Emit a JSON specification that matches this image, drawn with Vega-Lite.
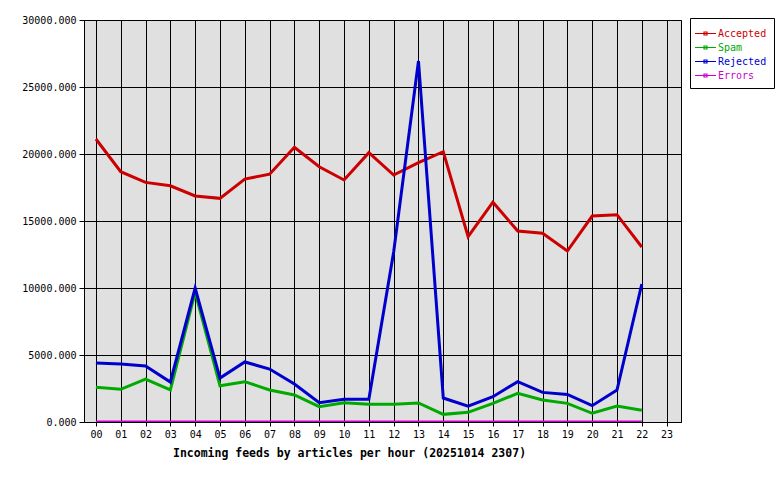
{
  "$schema": "https://vega.github.io/schema/vega-lite/v6.json",
  "autosize": "none",
  "width": 597,
  "height": 402,
  "padding": {"left": 84, "top": 20, "right": 99, "bottom": 58},
  "background": "white",
  "config": {
    "font": "DejaVu Sans Mono",
    "view": {"fill": "#e0e0e0", "stroke": "black", "strokeWidth": 1}
  },
  "data": {
    "values": [
      {"hour": 0, "series": "Accepted", "value": 21120},
      {"hour": 1, "series": "Accepted", "value": 18680},
      {"hour": 2, "series": "Accepted", "value": 17880},
      {"hour": 3, "series": "Accepted", "value": 17630},
      {"hour": 4, "series": "Accepted", "value": 16870},
      {"hour": 5, "series": "Accepted", "value": 16690},
      {"hour": 6, "series": "Accepted", "value": 18130},
      {"hour": 7, "series": "Accepted", "value": 18490},
      {"hour": 8, "series": "Accepted", "value": 20500},
      {"hour": 9, "series": "Accepted", "value": 19050},
      {"hour": 10, "series": "Accepted", "value": 18060},
      {"hour": 11, "series": "Accepted", "value": 20100},
      {"hour": 12, "series": "Accepted", "value": 18430},
      {"hour": 13, "series": "Accepted", "value": 19350},
      {"hour": 14, "series": "Accepted", "value": 20170},
      {"hour": 15, "series": "Accepted", "value": 13830},
      {"hour": 16, "series": "Accepted", "value": 16400},
      {"hour": 17, "series": "Accepted", "value": 14250},
      {"hour": 18, "series": "Accepted", "value": 14080},
      {"hour": 19, "series": "Accepted", "value": 12760},
      {"hour": 20, "series": "Accepted", "value": 15370},
      {"hour": 21, "series": "Accepted", "value": 15470},
      {"hour": 22, "series": "Accepted", "value": 13060},
      {"hour": 0, "series": "Spam", "value": 2590},
      {"hour": 1, "series": "Spam", "value": 2440},
      {"hour": 2, "series": "Spam", "value": 3200},
      {"hour": 3, "series": "Spam", "value": 2390},
      {"hour": 4, "series": "Spam", "value": 9700},
      {"hour": 5, "series": "Spam", "value": 2710},
      {"hour": 6, "series": "Spam", "value": 3010},
      {"hour": 7, "series": "Spam", "value": 2390},
      {"hour": 8, "series": "Spam", "value": 2020},
      {"hour": 9, "series": "Spam", "value": 1140},
      {"hour": 10, "series": "Spam", "value": 1440},
      {"hour": 11, "series": "Spam", "value": 1320},
      {"hour": 12, "series": "Spam", "value": 1320},
      {"hour": 13, "series": "Spam", "value": 1420},
      {"hour": 14, "series": "Spam", "value": 570},
      {"hour": 15, "series": "Spam", "value": 720},
      {"hour": 16, "series": "Spam", "value": 1390},
      {"hour": 17, "series": "Spam", "value": 2140},
      {"hour": 18, "series": "Spam", "value": 1640},
      {"hour": 19, "series": "Spam", "value": 1390},
      {"hour": 20, "series": "Spam", "value": 650},
      {"hour": 21, "series": "Spam", "value": 1190},
      {"hour": 22, "series": "Spam", "value": 870},
      {"hour": 0, "series": "Rejected", "value": 4400},
      {"hour": 1, "series": "Rejected", "value": 4330},
      {"hour": 2, "series": "Rejected", "value": 4180},
      {"hour": 3, "series": "Rejected", "value": 2985},
      {"hour": 4, "series": "Rejected", "value": 10000},
      {"hour": 5, "series": "Rejected", "value": 3280},
      {"hour": 6, "series": "Rejected", "value": 4480},
      {"hour": 7, "series": "Rejected", "value": 3950},
      {"hour": 8, "series": "Rejected", "value": 2840},
      {"hour": 9, "series": "Rejected", "value": 1440},
      {"hour": 10, "series": "Rejected", "value": 1690},
      {"hour": 11, "series": "Rejected", "value": 1690},
      {"hour": 12, "series": "Rejected", "value": 12690},
      {"hour": 13, "series": "Rejected", "value": 26940},
      {"hour": 14, "series": "Rejected", "value": 1790},
      {"hour": 15, "series": "Rejected", "value": 1190},
      {"hour": 16, "series": "Rejected", "value": 1890},
      {"hour": 17, "series": "Rejected", "value": 3010},
      {"hour": 18, "series": "Rejected", "value": 2210},
      {"hour": 19, "series": "Rejected", "value": 2060},
      {"hour": 20, "series": "Rejected", "value": 1220},
      {"hour": 21, "series": "Rejected", "value": 2390},
      {"hour": 22, "series": "Rejected", "value": 10300},
      {"hour": 0, "series": "Errors", "value": 0},
      {"hour": 1, "series": "Errors", "value": 0},
      {"hour": 2, "series": "Errors", "value": 0},
      {"hour": 3, "series": "Errors", "value": 0},
      {"hour": 4, "series": "Errors", "value": 0},
      {"hour": 5, "series": "Errors", "value": 0},
      {"hour": 6, "series": "Errors", "value": 0},
      {"hour": 7, "series": "Errors", "value": 0},
      {"hour": 8, "series": "Errors", "value": 0},
      {"hour": 9, "series": "Errors", "value": 0},
      {"hour": 10, "series": "Errors", "value": 0},
      {"hour": 11, "series": "Errors", "value": 0},
      {"hour": 12, "series": "Errors", "value": 0},
      {"hour": 13, "series": "Errors", "value": 0},
      {"hour": 14, "series": "Errors", "value": 0},
      {"hour": 15, "series": "Errors", "value": 0},
      {"hour": 16, "series": "Errors", "value": 0},
      {"hour": 17, "series": "Errors", "value": 0},
      {"hour": 18, "series": "Errors", "value": 0},
      {"hour": 19, "series": "Errors", "value": 0},
      {"hour": 20, "series": "Errors", "value": 0},
      {"hour": 21, "series": "Errors", "value": 0},
      {"hour": 22, "series": "Errors", "value": 0}
    ]
  },
  "mark": {"type": "line", "strokeWidth": 3, "interpolate": "linear", "clip": true},
  "encoding": {
    "x": {
      "field": "hour",
      "type": "quantitative",
      "scale": {"domain": [-0.48, 23.58], "nice": false, "zero": false},
      "axis": {
        "values": [0,1,2,3,4,5,6,7,8,9,10,11,12,13,14,15,16,17,18,19,20,21,22,23],
        "labelExpr": "datum.value < 10 ? '0' + datum.value : '' + datum.value",
        "grid": true,
        "gridColor": "black",
        "gridOpacity": 1,
        "gridWidth": 1,
        "domainColor": "black",
        "tickColor": "black",
        "tickSize": 4,
        "labelFont": "DejaVu Sans Mono",
        "labelFontSize": 10,
        "labelColor": "black",
        "labelPadding": 3,
        "title": "Incoming feeds by articles per hour (20251014 2307)",
        "titleFont": "DejaVu Sans Mono",
        "titleFontSize": 11.5,
        "titleFontWeight": "bold",
        "titleColor": "black",
        "titleX": 265,
        "titleY": 34,
        "titleAlign": "center",
        "titleBaseline": "alphabetic"
      }
    },
    "y": {
      "field": "value",
      "type": "quantitative",
      "scale": {"domain": [0, 30000], "nice": false},
      "axis": {
        "values": [0, 5000, 10000, 15000, 20000, 25000, 30000],
        "format": ".3f",
        "grid": true,
        "gridColor": "black",
        "gridOpacity": 1,
        "gridWidth": 1,
        "domainColor": "black",
        "tickColor": "black",
        "tickSize": 5,
        "labelFont": "DejaVu Sans Mono",
        "labelFontSize": 10,
        "labelColor": "black",
        "labelPadding": 3,
        "title": null
      }
    },
    "color": {
      "field": "series",
      "type": "nominal",
      "scale": {
        "domain": ["Accepted", "Spam", "Rejected", "Errors"],
        "range": ["#cc0000", "#00aa00", "#0000cc", "#cc00cc"]
      },
      "legend": {
        "title": null,
        "orient": "none",
        "legendX": 606,
        "legendY": -2,
        "fillColor": "white",
        "strokeColor": "black",
        "padding": 7,
        "rowPadding": 0,
        "labelFont": "DejaVu Sans Mono",
        "labelFontSize": 10,
        "labelOffset": 4,
        "symbolType": "M-1.4,0L1.4,0M-0.2,-0.2L0.2,-0.2L0.2,0.2L-0.2,0.2Z",
        "symbolSize": 225,
        "symbolStrokeWidth": 1.2,
        "encode": {
          "labels": {"update": {"fill": {"scale": "color", "field": "value"}}}
        }
      }
    }
  }
}
